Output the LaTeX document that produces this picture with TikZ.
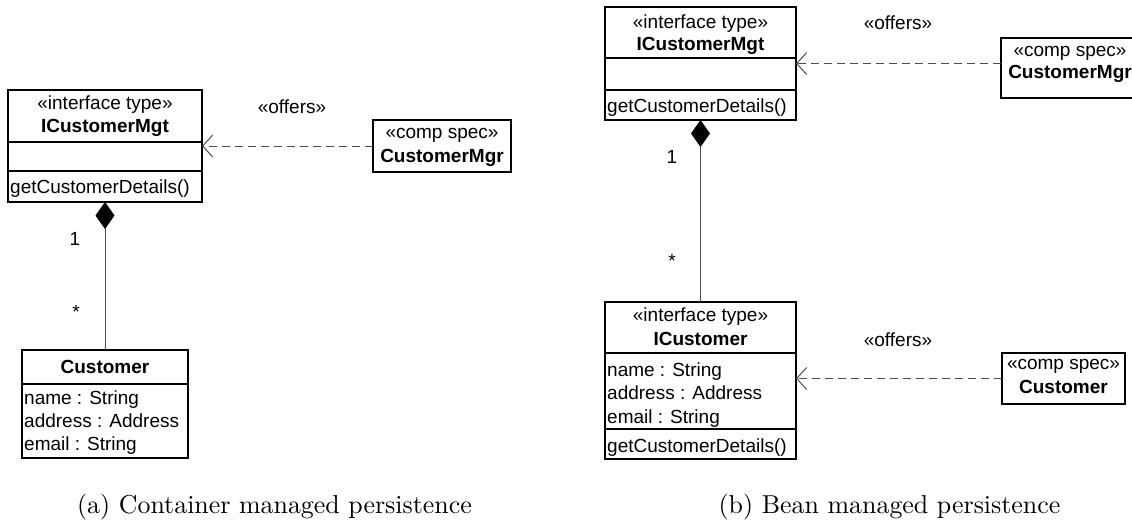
\documentclass[tikz,border=0pt]{standalone}
\usepackage{fontspec}
\newfontfamily\uml{Liberation Sans}
\usetikzlibrary{arrows.meta}
\begin{document}
\begin{tikzpicture}[x=1pt,y=-1pt,
  box/.style={draw, line width=1.3pt, inner sep=0pt, outer sep=0pt, anchor=north west},
  umltxt/.style={font=\uml\fontsize{19}{22}\selectfont, inner sep=0pt, anchor=base},
  umlbold/.style={umltxt, font=\uml\bfseries\fontsize{19}{22}\selectfont},
  attr/.style={umltxt, anchor=base west},
  divider/.style={line width=1.3pt},
  dep/.style={draw=black!70, line width=1pt, dash pattern=on 8pt off 5pt, -{Straight Barb[length=10pt,width=22pt]}},
  comp/.style={draw=black!70, line width=1pt, {Diamond[length=27pt,width=19pt,color=black,fill=black]}-},
  capt/.style={font=\fontsize{10}{12}\selectfont, scale=2.59, transform shape, inner sep=0pt, anchor=base}
]
\useasboundingbox (0,0) rectangle (1132,523);

% ---------- (a) ----------
\node[box, minimum width=194pt, minimum height=112pt] (mgtA) at (8,90) {};
\draw[divider] ([yshift=-52pt]mgtA.north west) -- ([yshift=-52pt]mgtA.north east);
\draw[divider] ([yshift=-81pt]mgtA.north west) -- ([yshift=-81pt]mgtA.north east);
\node[umltxt] (mgtAst) at (105,109) {«interface type»};
\node[umlbold] (mgtAnm) at (105,132) {ICustomerMgt};
\node[attr] (mgtAop) at (10,193) {getCustomerDetails()};

\node[box, minimum width=138pt, minimum height=52pt] (compA) at (373,120) {};
\node[umltxt] (compAst) at (442,138) {«comp spec»};
\node[umlbold] (compAnm) at (442,162) {CustomerMgr};

\node[umltxt] (offA) at (292,113) {«offers»};

\node[box, minimum width=166pt, minimum height=108pt] (custA) at (22,350) {};
\draw[divider] ([yshift=-34pt]custA.north west) -- ([yshift=-34pt]custA.north east);
\node[umlbold] (custAnm) at (105,373) {Customer};
\node[attr] (custAa1) at (24,404) {name : String};
\node[attr] (custAa2) at (24,427) {address : Address};
\node[attr] (custAa3) at (24,450) {email : String};

\node[umltxt] (oneA) at (75,245) {1};
\node[umltxt] (manyA) at (76,318.5) {*};

\draw[dep] (compA.west) -- (compA.west -| mgtA.east);
\draw[comp] (mgtA.south) -- (custA.north);

\node[capt] (captA) at (274.5,513) {(a) Container managed persistence};

% ---------- (b) ----------
\node[box, minimum width=191pt, minimum height=113pt] (mgtB) at (605,7) {};
\draw[divider] ([yshift=-51pt]mgtB.north west) -- ([yshift=-51pt]mgtB.north east);
\draw[divider] ([yshift=-83pt]mgtB.north west) -- ([yshift=-83pt]mgtB.north east);
\node[umltxt] (mgtBst) at (700.5,28) {«interface type»};
\node[umlbold] (mgtBnm) at (700.5,50) {ICustomerMgt};
\node[attr] (mgtBop) at (607,112) {getCustomerDetails()};

\node[box, minimum width=146pt, minimum height=60pt] (compB) at (1001,38) {};
\node[umltxt] (compBst) at (1070,56) {«comp spec»};
\node[umlbold] (compBnm) at (1070,78) {CustomerMgr};

\node[umltxt] (offB) at (898,29) {«offers»};

\node[box, minimum width=191pt, minimum height=157pt] (icust) at (605,302) {};
\draw[divider] ([yshift=-51pt]icust.north west) -- ([yshift=-51pt]icust.north east);
\draw[divider] ([yshift=-127pt]icust.north west) -- ([yshift=-127pt]icust.north east);
\node[umltxt] (icustst) at (700.5,321.5) {«interface type»};
\node[umlbold] (icustnm) at (700.5,345.5) {ICustomer};
\node[attr] (icusta1) at (607,376) {name : String};
\node[attr] (icusta2) at (607,399.5) {address : Address};
\node[attr] (icusta3) at (607,423) {email : String};
\node[attr] (icustop) at (607,452) {getCustomerDetails()};

\node[box, minimum width=123pt, minimum height=51pt] (compB2) at (1002,353) {};
\node[umltxt] (compB2st) at (1063.5,369) {«comp spec»};
\node[umlbold] (compB2nm) at (1063.5,393) {Customer};

\node[umltxt] (offB2) at (898,346) {«offers»};

\node[umltxt] (oneB) at (672,163) {1};
\node[umltxt] (manyB) at (672,267) {*};

\draw[dep] (mgtB.east -| compB.west) -- (mgtB.east);
\draw[dep] (compB2.west) -- (compB2.west -| icust.east);
\draw[comp] (mgtB.south) -- (icust.north);

\node[capt] (captB) at (889.5,513) {(b) Bean managed persistence};
\end{tikzpicture}
\end{document}
